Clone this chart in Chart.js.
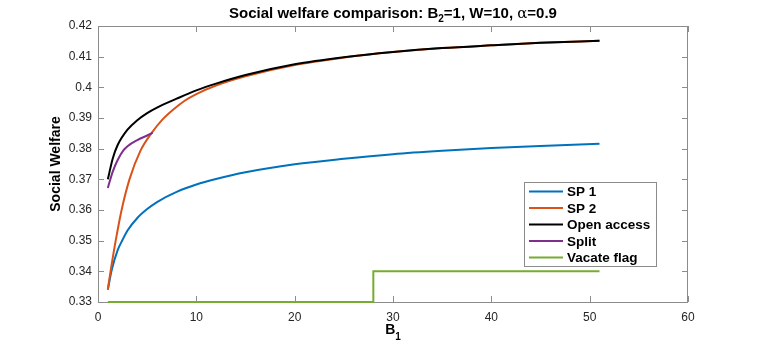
<!DOCTYPE html>
<html><head><meta charset="utf-8">
<script src="https://cdn.jsdelivr.net/npm/chart.js@4"></script>
<style>html,body{margin:0;padding:0;background:#fff}#wrap{width:761px;height:346px;position:relative}</style>
</head><body><div id="wrap"><canvas id="c" width="761" height="346"></canvas></div>
<script>
// ---- data ----
const sp1X = [1, 1.4, 2, 2.5, 3, 4, 5, 6, 8, 10, 12, 15, 20, 25, 30, 35, 40, 45, 51];
const sp1Y = [0.334, 0.3405, 0.3469, 0.3503, 0.3533, 0.3574, 0.3603, 0.3626, 0.3659, 0.3683, 0.3701, 0.3723, 0.3749, 0.3767, 0.3782, 0.3793, 0.3802, 0.3809, 0.3816];

const sp2X = [1, 1.3, 1.8, 2.4, 3.2, 4.3, 5.5, 6.5, 7.6, 8.85, 10, 12, 15, 20, 25, 30, 35, 40, 45, 51];
const sp2Y = [0.3342, 0.3405, 0.350, 0.360, 0.370, 0.3792, 0.3853, 0.3893, 0.3926, 0.3957, 0.3978, 0.4006, 0.4036, 0.4073, 0.4097, 0.4115, 0.4128, 0.4137, 0.4145, 0.4152];

const openX = [1, 1.5, 2, 3, 4, 5, 6, 8, 10, 12, 15, 20, 25, 30, 35, 40, 45, 51];
const openY = [0.370, 0.3768, 0.3812, 0.3862, 0.3893, 0.3916, 0.3934, 0.3963, 0.3990, 0.4012, 0.4040, 0.4075, 0.4098, 0.4115, 0.4128, 0.4137, 0.4145, 0.4152];

const splitX = [1, 1.5, 2, 2.6, 3, 4, 5, 5.56];
const splitY = [0.3672, 0.3725, 0.3763, 0.3795, 0.3808, 0.3828, 0.3843, 0.3852];

const vacateX = [1, 28, 28, 51];
const vacateY = [0.33, 0.33, 0.34, 0.34];

const seriesNames = ['SP 1', 'SP 2', 'Open access', 'Split', 'Vacate flag'];
const seriesColors = ['#0072BD', '#D95319', '#000000', '#7E2F8E', '#77AC30'];

const xTicks = [0, 10, 20, 30, 40, 50, 60];
const yTickLabels = ['0.33', '0.34', '0.35', '0.36', '0.37', '0.38', '0.39', '0.4', '0.41', '0.42'];

const FONT = '"Liberation Sans", Arial, Helvetica, sans-serif';

function pts(xs, ys) { return xs.map((x, i) => ({ x: x, y: ys[i] })); }

const seriesData = [pts(sp1X, sp1Y), pts(sp2X, sp2Y), pts(openX, openY), pts(splitX, splitY), pts(vacateX, vacateY)];

const datasets = seriesData.map((d, i) => ({
  label: seriesNames[i],
  data: d,
  borderColor: seriesColors[i],
  backgroundColor: seriesColors[i],
  borderWidth: 2,
  pointRadius: 0,
  fill: false,
  tension: i === 4 ? 0 : 0.4,
  cubicInterpolationMode: i === 4 ? 'default' : 'monotone',
  order: 5 - i,
  clip: 3
}));

const decor = {
  id: 'decor',
  beforeDatasetsDraw(chart) {
    const ctx = chart.ctx;
    const a = chart.chartArea;
    const xs = chart.scales.x, ys = chart.scales.y;
    ctx.save();
    ctx.strokeStyle = '#8c8c8c';
    ctx.lineWidth = 1;
    ctx.strokeRect(a.left + 0.5, a.top + 0.5, a.right - a.left - 1, a.bottom - a.top);
    ctx.beginPath();
    xTicks.forEach(v => {
      const p = Math.round(xs.getPixelForValue(v)) + 0.5;
      ctx.moveTo(p, a.bottom); ctx.lineTo(p, a.bottom - 6);
      ctx.moveTo(p, a.top); ctx.lineTo(p, a.top + 6);
    });
    yTickLabels.forEach(l => {
      const p = Math.round(ys.getPixelForValue(parseFloat(l))) + 0.5;
      ctx.moveTo(a.left, p); ctx.lineTo(a.left + 6, p);
      ctx.moveTo(a.right, p); ctx.lineTo(a.right - 6, p);
    });
    ctx.stroke();
    ctx.restore();
  },
  afterDraw(chart) {
    const ctx = chart.ctx;
    const a = chart.chartArea;
    ctx.save();
    // title with subscript and alpha
    ctx.fillStyle = '#000';
    ctx.textBaseline = 'alphabetic';
    const parts = [
      { t: 'Social welfare comparison: B', f: 'bold 15px ' + FONT, dy: 0 },
      { t: '2', f: 'bold 10px ' + FONT, dy: 4 },
      { t: '=1, W=10, ', f: 'bold 15px ' + FONT, dy: 0 },
      { t: '\u03B1', f: '15px "DejaVu Serif", serif', dy: 0 },
      { t: '=0.9', f: 'bold 15px ' + FONT, dy: 0 }
    ];
    let tw = 0;
    parts.forEach(p => { ctx.font = p.f; p.w = ctx.measureText(p.t).width; tw += p.w; });
    let tx = (a.left + a.right) / 2 - tw / 2;
    ctx.textAlign = 'left';
    parts.forEach(p => { ctx.font = p.f; ctx.fillText(p.t, tx, 18 + p.dy); tx += p.w; });

    // x label B1
    ctx.font = 'bold 14px ' + FONT;
    const bw = ctx.measureText('B').width;
    ctx.font = 'bold 10px ' + FONT;
    const sw = ctx.measureText('1').width;
    let lx = (a.left + a.right) / 2 - (bw + sw) / 2;
    ctx.font = 'bold 14px ' + FONT;
    ctx.fillText('B', lx, 334);
    ctx.font = 'bold 10px ' + FONT;
    ctx.fillText('1', lx + bw, 340);

    // y label
    ctx.save();
    ctx.translate(56, (a.top + a.bottom) / 2);
    ctx.rotate(-Math.PI / 2);
    ctx.textAlign = 'center';
    ctx.textBaseline = 'middle';
    ctx.font = 'bold 14px ' + FONT;
    ctx.fillText('Social Welfare', 0, 0);
    ctx.restore();

    // legend
    const lx0 = 524.5, ly0 = 182.5, lw = 132, lh = 84;
    ctx.fillStyle = '#fff';
    ctx.fillRect(lx0, ly0, lw, lh);
    ctx.strokeStyle = '#8c8c8c';
    ctx.lineWidth = 1;
    ctx.strokeRect(lx0, ly0, lw, lh);
    ctx.font = 'bold 13.5px ' + FONT;
    ctx.textBaseline = 'middle';
    ctx.textAlign = 'left';
    seriesNames.forEach((n, i) => {
      const yy = 191.5 + i * 16.5;
      ctx.strokeStyle = seriesColors[i];
      ctx.lineWidth = 2;
      ctx.beginPath(); ctx.moveTo(529, yy); ctx.lineTo(563, yy); ctx.stroke();
      ctx.fillStyle = '#000';
      ctx.fillText(n, 567, yy + 1);
    });
    ctx.restore();
  }
};

new Chart(document.getElementById('c'), {
  type: 'line',
  data: { datasets: datasets },
  options: {
    responsive: false,
    animation: false,
    devicePixelRatio: 1,
    layout: { padding: { left: 0, right: 73, top: 26, bottom: 0 } },
    plugins: { legend: { display: false }, title: { display: false }, tooltip: { enabled: false } },
    scales: {
      x: {
        type: 'linear', min: 0, max: 60,
        afterFit: s => { s.height = 44; },
        afterBuildTicks: s => { s.ticks = xTicks.map(v => ({ value: v })); },
        ticks: { font: { family: FONT, size: 12 }, color: '#262626', padding: 8, maxRotation: 0, callback: v => String(v) },
        grid: { display: false, drawTicks: false },
        border: { display: false }
      },
      y: {
        type: 'linear', min: 0.33, max: 0.42,
        afterFit: s => { s.width = 98; },
        afterBuildTicks: s => { s.ticks = yTickLabels.map(l => ({ value: parseFloat(l) })); },
        ticks: { font: { family: FONT, size: 12 }, color: '#262626', padding: 6,
          callback: (v, i) => yTickLabels[i] },
        grid: { display: false, drawTicks: false },
        border: { display: false }
      }
    }
  },
  plugins: [decor]
});
</script>
</body></html>
